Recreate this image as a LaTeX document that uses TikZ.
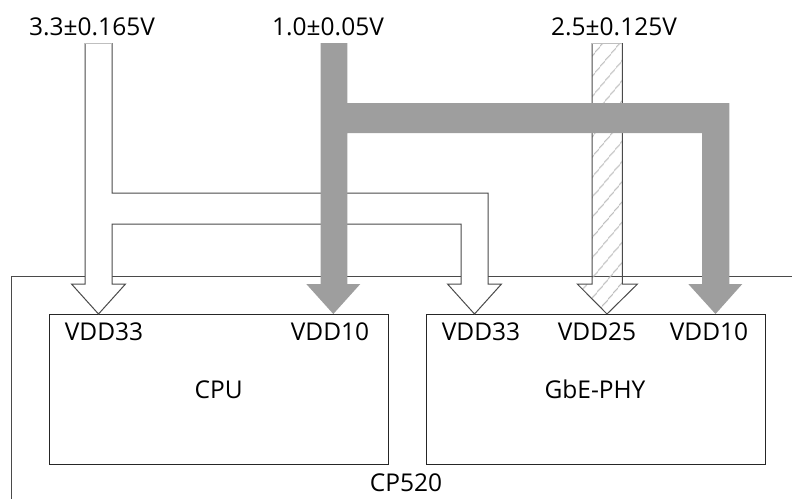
\documentclass[tikz,border=0pt]{standalone}
\usepackage{fontspec}
\setmainfont{Open Sans}
\usepackage{tikz}
\usetikzlibrary{
    positioning,
    patterns.meta
}
\definecolor{railgray}{HTML}{9E9E9E}
\definecolor{edgegray}{HTML}{4A4A4A}
\definecolor{hatchgray}{HTML}{BDBDBD}
\tikzset{
    every node/.style={
        font=\fontsize{24.5}{29}\selectfont,
        inner sep=0pt
    },
    block/.style={
        draw=black!85,
        line width=1pt,
        minimum width=339pt,
        minimum height=150pt
    },
    pin/.style={
        anchor=base
    },
    rail33/.style={
        draw=edgegray,
        line width=1pt,
        fill=white
    },
    rail25/.style={
        draw=edgegray,
        line width=1pt,
        pattern={Lines[angle=50, distance=13pt, line width=1.1pt]},
        pattern color=hatchgray
    },
    rail10/.style={
        fill=railgray
    }
}

\begin{document}
\begin{tikzpicture}[
    x=1pt,
    y=-1pt
]

    \clip (0,0) rectangle (792,498);

    % Placa
    \draw[edgegray, line width=1pt] (11.7,520) |- (820,276.7);
    \node[pin] (cp) at (406,491.7) {CP520};

    % Bloques
    \node[block] (cpu) at (218.7,389.3) {};
    \node[block] (phy) at (595.7,389.3) {};
    \node[pin] (cpulbl) at (218.7,398.3) {CPU};
    \node[pin] (phylbl) at (595,398.3) {GbE-PHY};

    % Pines
    \node[pin] (cpu33) at (104,340.7) {VDD33};
    \node[pin] (cpu10) at (330,340.7) {VDD10};
    \node[pin] (phy33) at (481,340.7) {VDD33};
    \node[pin] (phy25) at (597,340.7) {VDD25};
    \node[pin] (phy10) at (709,340.7) {VDD10};

    % Fuentes
    \node[pin] (src33) at (92,35)  {3.3±0.165V};
    \node[pin] (src10) at (328,35) {1.0±0.05V};
    \node[pin] (src25) at (614,35) {2.5±0.125V};

    % Riel 3.3V
    \fill[white]
        (85,43) -- (85,284) -- (71.5,284) -- (98.5,314) -- (125.5,284)
        -- (112,284) -- (112,224) -- (461,224) -- (461,284) -- (447.5,284)
        -- (474.5,314) -- (501.5,284) -- (488,284) -- (488,193)
        -- (112,193) -- (112,43) -- cycle;
    \draw[rail33, fill=none]
        (85,43) -- (85,284) -- (71.5,284) -- (98.5,314) -- (125.5,284)
        -- (112,284) -- (112,224) -- (461,224) -- (461,284) -- (447.5,284)
        -- (474.5,314) -- (501.5,284) -- (488,284) -- (488,193)
        -- (112,193) -- (112,43);
    \draw[black!25, line width=1pt] (85,43) -- (112,43);

    % Riel 2.5V
    \fill[rail25, draw=none]
        (592,43) -- (592,284) -- (577.3,284) -- (607,314) -- (637.5,284)
        -- (622.3,284) -- (622.3,43) -- cycle;
    \draw[rail25, pattern=none]
        (592,43) -- (592,284) -- (577.3,284) -- (607,314) -- (637.5,284)
        -- (622.3,284) -- (622.3,43);
    \draw[black!25, line width=1pt] (592,43) -- (622.3,43);

    % Riel 1.0V
    \fill[rail10]
        (320.7,43) -- (320.7,284) -- (306.3,284) -- (333.3,314) -- (360.3,284)
        -- (347.3,284) -- (347.3,133) -- (702,133) -- (702,284) -- (688.3,284)
        -- (715.5,314) -- (742.3,284) -- (729.3,284) -- (729.3,103)
        -- (347.3,103) -- (347.3,43) -- cycle;

\end{tikzpicture}
\end{document}
